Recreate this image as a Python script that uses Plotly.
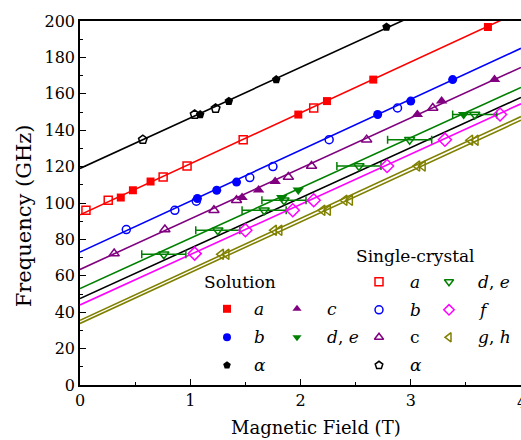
import plotly.graph_objects as go

# ---------------- data ----------------
# Solution (filled markers)
sol_a_B = [0.37, 0.48, 0.64, 1.98, 2.24, 2.66, 3.70]
sol_a_f = [103.0, 107.0, 111.8, 148.6, 156.0, 167.8, 196.7]
sol_b_B = [1.065, 1.24, 1.42, 2.70, 3.00, 3.38]
sol_b_f = [102.5, 107.0, 111.5, 148.6, 156.0, 167.8]
sol_c_B = [1.47, 1.62, 1.77, 3.06, 3.28, 3.76]
sol_c_f = [103.0, 107.2, 111.8, 148.6, 156.0, 167.8]
sol_de_B = [1.83, 1.98, 3.48]
sol_de_f = [103.0, 107.2, 148.6]
sol_al_B = [1.09, 1.35, 1.78, 2.78]
sol_al_f = [148.6, 155.9, 167.8, 196.7]

# Single-crystal (open markers)
sc_a_B = [0.054, 0.256, 0.754, 0.971, 1.48, 2.12]
sc_a_f = [96.0, 101.5, 114.3, 120.3, 134.8, 152.2]
sc_b_B = [0.42, 0.86, 1.055, 1.54, 1.75, 2.26, 2.88]
sc_b_f = [85.4, 96.0, 101.0, 114.0, 120.0, 134.8, 152.2]
sc_c_B = [0.31, 0.77, 1.215, 1.42, 1.89, 2.10, 2.60, 3.20]
sc_c_f = [72.2, 85.4, 96.0, 101.5, 114.3, 120.3, 134.8, 152.2]
sc_de_B = [0.76, 1.25, 1.67, 1.85, 2.53, 2.99, 3.58]
sc_de_f = [71.8, 85.0, 96.0, 101.5, 120.3, 134.8, 148.6]
sc_de_err = [0.2, 0.2, 0.2, 0.2, 0.2, 0.2, 0.2]
sc_f_B = [1.04, 1.50, 1.93, 2.12, 2.785, 3.31, 3.81]
sc_f_f = [72.2, 85.0, 96.0, 101.5, 120.3, 134.8, 148.6]
sc_g_B = [1.28, 1.76, 2.20, 2.40, 3.06, 3.54]
sc_h_B = [1.33, 1.81, 2.25, 2.45, 3.11, 3.59]
sc_gh_f = [71.8, 85.0, 96.0, 101.5, 120.3, 134.5]
sc_al_B = [0.57, 1.04, 1.23]
sc_al_f = [134.8, 148.6, 151.9]

# fitted lines: frequency at B = 0 T and at B = 4 T
line_B = [0, 4]
fit_lines = {
    "alpha": ([119.0, 230.0], "#000000"),
    "a": ([93.5, 205.5], "#ff0000"),
    "b": ([73.0, 185.0], "#0000ff"),
    "c": ([63.5, 174.5], "#800080"),
    "de": ([53.0, 163.5], "#008000"),
    "x": ([47.5, 158.0], "#000000"),
    "f": ([44.0, 154.5], "#ff00ff"),
    "g": ([35.5, 147.5], "#808000"),
    "h": ([33.8, 145.5], "#808000"),
}

x_ticks = [0, 1, 2, 3, 4]
x_ticklabels = ["0", "1", "2", "3", "4"]

RED, BLUE, PUR, GRN, MAG, OLV, BLK = "#ff0000", "#0000ff", "#800080", "#008000", "#ff00ff", "#808000", "#000000"
FONT = "DejaVu Serif"
TICK_SIZE, LEG_SIZE, XT_SIZE, YT_SIZE = 16, 17, 18, 21

fig = go.Figure()
for name, (fv, col) in fit_lines.items():
    fig.add_trace(go.Scatter(x=line_B, y=fv, mode="lines",
                             line=dict(color=col, width=1.6), hoverinfo="skip"))

def pts(x, y, sym, col, size, filled, err=None):
    mk = dict(symbol=sym, size=size, color=col)
    if not filled:
        mk["line"] = dict(color=col, width=1.5)
    kw = {}
    if err is not None:
        kw["error_x"] = dict(type="data", array=err, color=col, thickness=1.5, width=4)
    fig.add_trace(go.Scatter(x=x, y=y, mode="markers", marker=mk, cliponaxis=False, **kw))

# single crystal (open)
pts(sc_de_B, sc_de_f, "triangle-down-open", GRN, 9, False, sc_de_err)
pts(sc_a_B, sc_a_f, "square-open", RED, 8, False)
pts(sc_b_B, sc_b_f, "circle-open", BLUE, 8, False)
pts(sc_c_B, sc_c_f, "triangle-up-open", PUR, 9, False)
pts(sc_f_B, sc_f_f, "diamond-open", MAG, 10, False)
pts(sc_g_B, sc_gh_f, "triangle-left-open", OLV, 9, False)
pts(sc_h_B, sc_gh_f, "triangle-left-open", OLV, 9, False)
pts(sc_al_B, sc_al_f, "pentagon-open", BLK, 9, False)
# solution (filled)
pts(sol_a_B, sol_a_f, "square", RED, 8, True)
pts(sol_b_B, sol_b_f, "circle", BLUE, 9, True)
pts(sol_c_B, sol_c_f, "triangle-up", PUR, 10, True)
pts(sol_de_B, sol_de_f, "triangle-down", GRN, 10, True)
pts(sol_al_B, sol_al_f, "pentagon", BLK, 9, True)

# ---------------- custom legend (paper-fraction overlay axes) ----------------
L, T, W, H = 80.0, 20.7, 441.0, 364.0
def px(x):
    return (x - L) / W
def py(y):
    return (T + H - y) / H

legend_items = [
    # marker x, y, symbol, color, text x, label
    (227, 308.5, "square", RED, 252, "<i>a</i>"),
    (227, 337, "circle", BLUE, 252, "<i>b</i>"),
    (227, 365, "pentagon", BLK, 252, "<i>α</i>"),
    (297, 308.5, "triangle-up", PUR, 325, "<i>c</i>"),
    (297, 337, "triangle-down", GRN, 325, "<i>d</i>, <i>e</i>"),
    (379, 281.5, "square-open", RED, 408, "<i>a</i>"),
    (379, 309.5, "circle-open", BLUE, 408, "<i>b</i>"),
    (379, 337, "triangle-up-open", PUR, 408, "c"),
    (379, 365, "pentagon-open", BLK, 408, "<i>α</i>"),
    (449, 281.5, "triangle-down-open", GRN, 476, "<i>d</i>, <i>e</i>"),
    (449, 309.5, "diamond-open", MAG, 476, "<i>f</i>"),
    (449, 337, "triangle-left-open", OLV, 476, "<i>g</i>, <i>h</i>"),
]
annotations = []
for mx, my, sym, col, tx, lab in legend_items:
    mk = dict(symbol=sym, size=8, color=col)
    if sym.endswith("open"):
        mk["line"] = dict(color=col, width=1.5)
    fig.add_trace(go.Scatter(x=[px(mx)], y=[py(my)], xaxis="x2", yaxis="y2",
                             mode="markers", marker=mk, cliponaxis=False))
    annotations.append(dict(x=px(tx), y=py(my), xref="paper", yref="paper", text=lab,
                            showarrow=False, xanchor="left", yanchor="middle",
                            font=dict(family=FONT, size=LEG_SIZE, color="black")))
annotations.append(dict(x=px(240), y=py(282), xref="paper", yref="paper", text="Solution",
                        showarrow=False, xanchor="center", yanchor="middle",
                        font=dict(family=FONT, size=LEG_SIZE, color="black")))
annotations.append(dict(x=px(415), y=py(256), xref="paper", yref="paper", text="Single-crystal",
                        showarrow=False, xanchor="center", yanchor="middle",
                        font=dict(family=FONT, size=LEG_SIZE, color="black")))
annotations.append(dict(x=px(316), y=py(427), xref="paper", yref="paper", text="Magnetic Field (T)",
                        showarrow=False, xanchor="center", yanchor="middle",
                        font=dict(family=FONT, size=XT_SIZE, color="black")))
annotations.append(dict(x=px(24), y=py(216), xref="paper", yref="paper", text="Frequency (GHz)",
                        showarrow=False, xanchor="center", yanchor="middle", textangle=-90,
                        font=dict(family=FONT, size=YT_SIZE, color="black")))
# the "4" tick label sits at the right edge, partly cut off as in the reference
annotations.append(dict(x=1.0, y=0, xref="paper", yref="paper", text=x_ticklabels[-1],
                        showarrow=False, xanchor="left", yanchor="top", yshift=-6, xshift=-6,
                        font=dict(family=FONT, size=TICK_SIZE, color="black")))

fig.update_layout(
    width=521, height=440,
    margin=dict(l=80, r=0, t=21, b=55),
    paper_bgcolor="white", plot_bgcolor="white",
    showlegend=False,
    font=dict(family=FONT, size=TICK_SIZE, color="black"),
    annotations=annotations,
    xaxis=dict(range=[0, 4], tickvals=x_ticks[:-1], ticktext=x_ticklabels[:-1],
               showgrid=False, zeroline=False,
               showline=True, linecolor="black", linewidth=1.5, mirror=True,
               ticks="inside", ticklen=6, tickwidth=1.3, tickcolor="black",
               minor=dict(dtick=0.5, tick0=0, ticks="inside", ticklen=3, tickwidth=1.3, tickcolor="black"),
               tickfont=dict(family=FONT, size=TICK_SIZE)),
    yaxis=dict(range=[0, 200], dtick=20, tick0=0, showgrid=False, zeroline=False,
               showline=True, linecolor="black", linewidth=1.5,
               ticks="inside", ticklen=6, tickwidth=1.3, tickcolor="black",
               minor=dict(dtick=10, ticks="inside", ticklen=3, tickwidth=1.3, tickcolor="black"),
               tickfont=dict(family=FONT, size=TICK_SIZE)),
    xaxis2=dict(range=[0, 1], overlaying="x", visible=False, fixedrange=True),
    yaxis2=dict(range=[0, 1], overlaying="y", visible=False, fixedrange=True),
)

fig.write_html("out.html")
